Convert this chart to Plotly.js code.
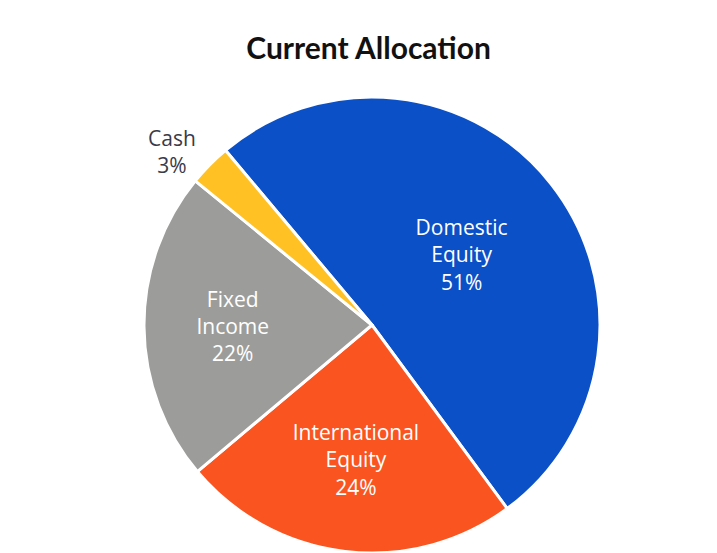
<!DOCTYPE html>
<html>
<head>
<meta charset="utf-8">
<script src="https://cdn.plot.ly/plotly-3.0.1.min.js"></script>
<style>html,body{margin:0;padding:0;background:#fff;}#chart{width:717px;height:553px;}</style>
</head>
<body>
<div id="chart"></div>
<script>
const categories = ["Domestic<br>Equity", "International<br>Equity", "Fixed<br>Income", "Cash"];
const values = [51, 24, 22, 3];
const colors = ["#0B50C6", "#FA5420", "#9C9D9A", "#FFC124"];

const trace = {
  type: "pie",
  labels: categories,
  values: values,
  sort: false,
  direction: "clockwise",
  rotation: -40,
  marker: {colors: colors, line: {color: "#ffffff", width: 3}},
  texttemplate: "%{label}<br>%{percent:.0%}",
  textposition: ["inside", "inside", "inside", "outside"],
  insidetextorientation: "horizontal",
  insidetextfont: {family: "'Open Sans', 'Noto Sans', sans-serif", size: 21, color: "#ffffff"},
  outsidetextfont: {family: "'Open Sans', 'Noto Sans', sans-serif", size: 21, color: "#3a3a48"},
  showlegend: false,
  hoverinfo: "none",
  automargin: false,
  domain: {x: [0.2008, 0.8368], y: [0, 0.8246]}
};

const layout = {
  width: 717,
  height: 553,
  margin: {l: 0, r: 0, t: 0, b: 0},
  paper_bgcolor: "#ffffff",
  showlegend: false,
  title: {
    text: "<b>Current Allocation</b>",
    font: {family: "Lato, 'Noto Sans', sans-serif", size: 30, color: "#111111"},
    x: 0.514, xanchor: "center",
    y: 0.913, yref: "container", yanchor: "middle"
  },
  uniformtext: {mode: false}
};

Plotly.newPlot("chart", [trace], layout, {displayModeBar: false, staticPlot: true});
</script>
</body>
</html>
